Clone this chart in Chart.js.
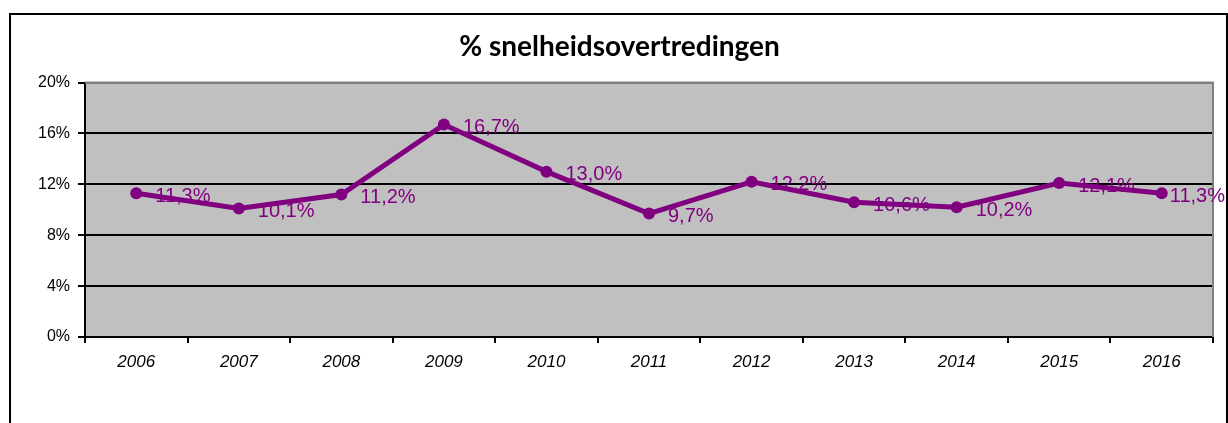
<!DOCTYPE html>
<html>
<head>
<meta charset="utf-8">
<script src="https://cdn.jsdelivr.net/npm/chart.js@4/dist/chart.umd.min.js"></script>
<style>
  body { margin: 0; background: #fff; }
  #wrap { width: 1228px; height: 423px; }
</style>
</head>
<body>
<div id="wrap"><canvas id="speedChart" width="1228" height="423"></canvas></div>
<script>
// jaren en percentages uit de grafiek
const years = ["2006", "2007", "2008", "2009", "2010", "2011", "2012", "2013", "2014", "2015", "2016"];
const speedPct = [11.3, 10.1, 11.2, 16.7, 13.0, 9.7, 12.2, 10.6, 10.2, 12.1, 11.3];
const yTicks = [0, 4, 8, 12, 16, 20];
const chartTitle = "% snelheidsovertredingen";

const purple = "#800080";

// grijze plotachtergrond + kader rond de hele grafiek
const frame = {
    id: "frame",
    beforeDraw: function(chart) {
        const c = chart.ctx, a = chart.chartArea;
        c.save();
        c.fillStyle = "#C0C0C0";
        c.fillRect(a.left, a.top, a.right - a.left, a.bottom - a.top);
        c.restore();
    },
    beforeDatasetsDraw: function(chart) {
        const c = chart.ctx, a = chart.chartArea;
        c.save();
        c.strokeStyle = "#808080";
        c.lineWidth = 2;
        c.beginPath();
        c.moveTo(a.left, a.top);
        c.lineTo(a.right, a.top);
        c.lineTo(a.right, a.bottom);
        c.stroke();

        // labels onder de lijn, zoals in het origineel
        const meta = chart.getDatasetMeta(0);
        c.font = "20px 'Liberation Sans', Arial, sans-serif";
        c.fillStyle = purple;
        c.textBaseline = "middle";
        c.textAlign = "left";
        meta.data.forEach(function(pt, i) {
            const txt = speedPct[i].toFixed(1).replace(".", ",") + "%";
            const w = c.measureText(txt).width;
            const x = Math.min(pt.x + 19, chart.width - 3 - w);
            c.fillText(txt, x, pt.y + 3);
        });
        c.restore();
    },
    afterDraw: function(chart) {
        const c = chart.ctx;
        c.save();
        c.strokeStyle = "#000";
        c.lineWidth = 2;
        c.strokeRect(10, 14, 1217, 430);
        c.restore();
    }
};

new Chart(document.getElementById("speedChart"), {
    type: "line",
    data: {
        labels: years,
        datasets: [{
            data: speedPct,
            borderColor: purple,
            backgroundColor: purple,
            borderWidth: 5,
            pointRadius: 6,
            pointBackgroundColor: purple,
            pointBorderWidth: 0,
            tension: 0
        }]
    },
    options: {
        responsive: false,
        animation: false,
        layout: { padding: { top: 30, right: 15, left: 26, bottom: 0 } },
        plugins: {
            legend: { display: false },
            tooltip: { enabled: false },
            title: {
                display: true,
                text: chartTitle,
                color: "#000",
                font: { family: "Lato, 'Open Sans', sans-serif", size: 28, weight: "bold" },
                padding: { top: 0, bottom: 19 }
            }
        },
        scales: {
            x: {
                offset: true,
                grid: { offset: true, drawOnChartArea: false, color: "#000", lineWidth: 2, tickLength: 6 },
                border: { color: "#000", width: 2 },
                ticks: {
                    color: "#000",
                    padding: 9,
                    maxRotation: 0,
                    font: { family: "'Liberation Sans', Arial, sans-serif", size: 17, style: "italic" }
                },
                afterFit: function(scale) { scale.height = 86; }
            },
            y: {
                min: 0,
                max: 20,
                afterBuildTicks: function(scale) {
                    scale.ticks = yTicks.map(function(v) { return { value: v }; });
                },
                grid: {
                    color: function(ctx) { return ctx.tick && ctx.tick.value === 20 ? "#808080" : "#000"; },
                    tickColor: "#000",
                    lineWidth: 2,
                    tickLength: 7
                },
                border: { color: "#000", width: 2 },
                ticks: {
                    color: "#000",
                    padding: 8,
                    font: { family: "'Liberation Sans', Arial, sans-serif", size: 16 },
                    callback: function(v) { return v + "%"; }
                },
                afterFit: function(scale) { scale.width = 59; }
            }
        }
    },
    plugins: [frame]
});
</script>
</body>
</html>
